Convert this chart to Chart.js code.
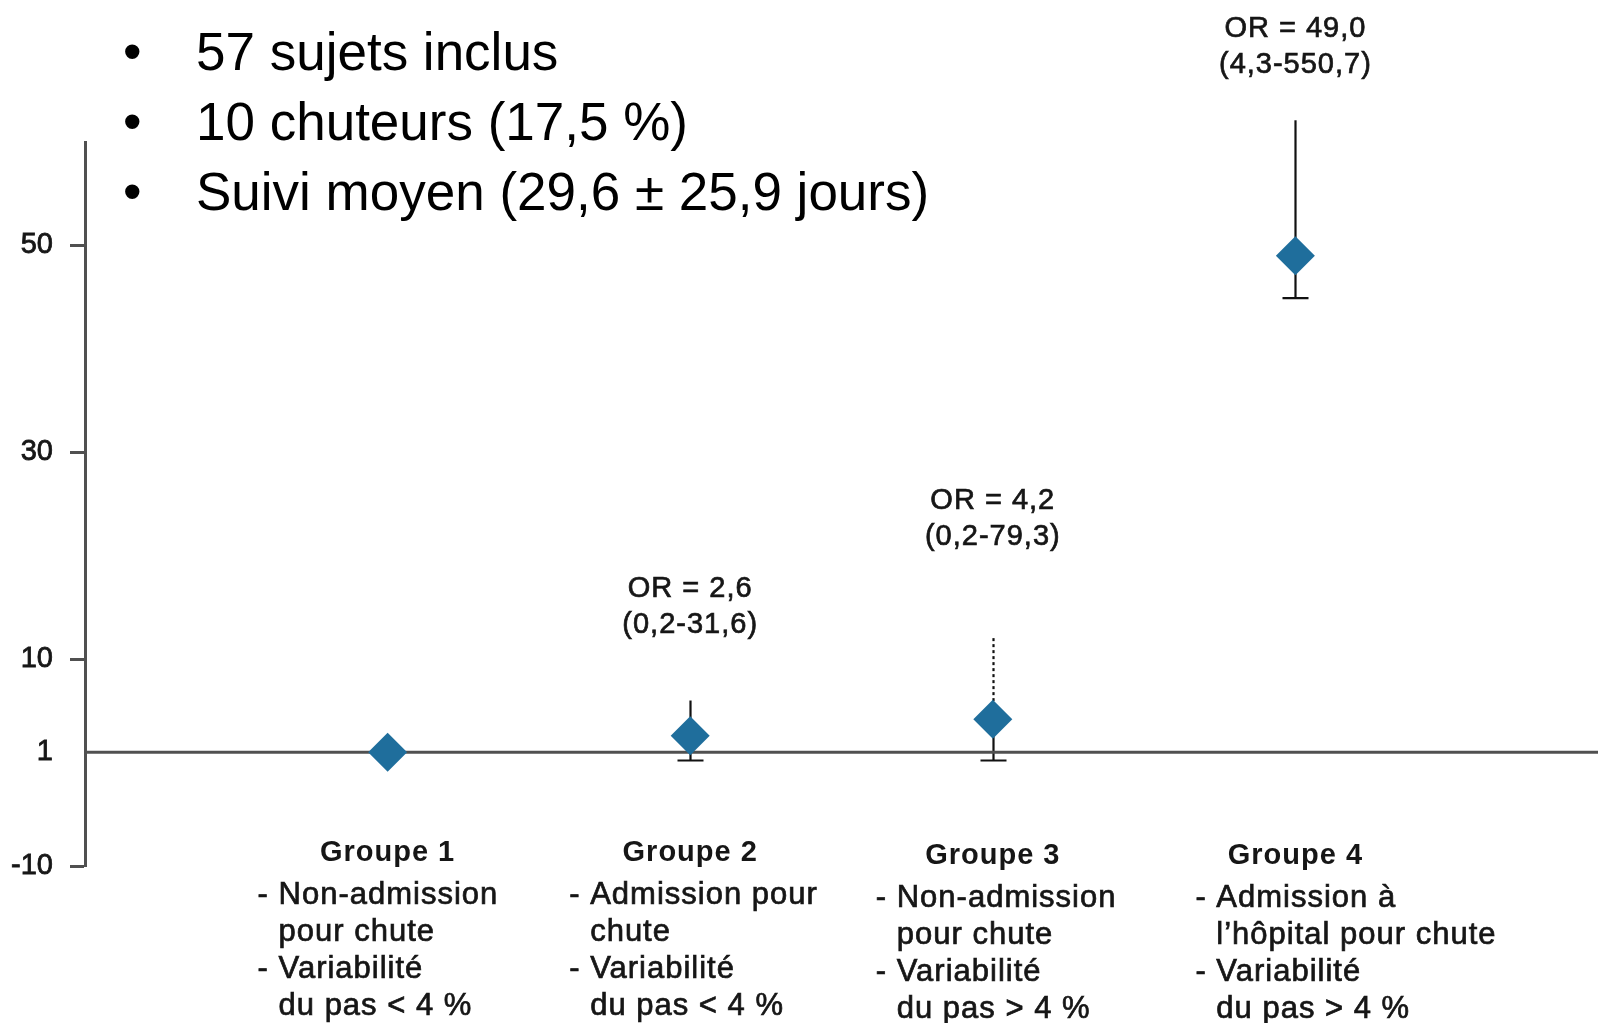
<!DOCTYPE html>
<html>
<head>
<meta charset="utf-8">
<script src="https://cdn.jsdelivr.net/npm/chart.js@4.4.1/dist/chart.umd.min.js"></script>
<style>
  html, body { margin: 0; padding: 0; background: #fff; overflow: hidden; }
  #wrap { position: relative; width: 1598px; height: 1023px; }
  #myChart { display: block; }
  #bullets {
    position: absolute; left: 0; top: 17px;
    font-family: "Liberation Sans", Arial, sans-serif;
    font-size: 53px; line-height: 70px; color: #000;
  }
  #bullets div { position: relative; padding-left: 196px; white-space: nowrap; }
  #bullets span { position: absolute; left: 123px; }
</style>
</head>
<body>
<div id="wrap">
  <canvas id="myChart"></canvas>
  <div id="bullets">
    <div><span>•</span>57 sujets inclus</div>
    <div><span>•</span>10 chuteurs (17,5 %)</div>
    <div><span>•</span>Suivi moyen (29,6 ± 25,9 jours)</div>
  </div>
</div>
<script>
'use strict';
// données
const groupes = ['Groupe 1', 'Groupe 2', 'Groupe 3', 'Groupe 4'];
const groupePos = [1, 2, 3, 4];
const oddsRatio = [1, 2.6, 4.2, 49.0];
// bornes des barres telles que dessinées
const barreBas = [null, 0.2, 0.2, 44.9];
const barreHaut = [null, 6.0, 12.3, 62.1];
const orTextes = ['', 'OR = 2,6', 'OR = 4,2', 'OR = 49,0'];
const icTextes = ['', '(0,2-31,6)', '(0,2-79,3)', '(4,3-550,7)'];
const descriptions = [
  ['- Non-admission', 'pour chute', '- Variabilité', 'du pas < 4 %'],
  ['- Admission pour', 'chute', '- Variabilité', 'du pas < 4 %'],
  ['- Non-admission', 'pour chute', '- Variabilité', 'du pas > 4 %'],
  ['- Admission à', 'l’hôpital pour chute', '- Variabilité', 'du pas > 4 %']
];
const yTicks = [-10, 1, 10, 30, 50];
const reference = 1;

const police = '"Liberation Sans", Arial, sans-serif';

// écrit un texte un peu plus épais (graisse "medium")
function texte(ctx, s, x, y) {
  ctx.fillText(s, x, y);
  ctx.strokeText(s, x, y);
}

// barres d'erreur + textes (OR, groupes)
const annotations = {
  id: 'annotations',
  beforeDatasetsDraw(chart, args, opts) {
    const ctx = chart.ctx;
    const xs = chart.scales.x, ys = chart.scales.y;
    ctx.save();
    ctx.strokeStyle = '#111';
    ctx.lineWidth = 2.2;
    for (let i = 0; i < groupes.length; i++) {
      if (barreHaut[i] == null) continue;
      const x = Math.round(xs.getPixelForValue(groupePos[i])) + 0.5;
      const yPt = ys.getPixelForValue(oddsRatio[i]);
      const yHi = ys.getPixelForValue(barreHaut[i]);
      const yLo = ys.getPixelForValue(barreBas[i]);
      // partie haute
      ctx.setLineDash(opts.pointille[i] ? [3, 3] : []);
      ctx.beginPath();
      ctx.moveTo(x, yPt);
      ctx.lineTo(x, yHi);
      ctx.stroke();
      // partie basse + trait
      ctx.setLineDash([]);
      ctx.beginPath();
      ctx.moveTo(x, yPt);
      ctx.lineTo(x, yLo);
      ctx.moveTo(x - 13, yLo);
      ctx.lineTo(x + 13, yLo);
      ctx.stroke();
    }
    ctx.restore();
  },
  afterDraw(chart, args, opts) {
    const ctx = chart.ctx;
    const xs = chart.scales.x, ys = chart.scales.y;
    ctx.save();
    ctx.fillStyle = '#161616';
    ctx.strokeStyle = '#161616';
    ctx.lineWidth = 0.7;
    ctx.letterSpacing = '1px';
    ctx.textBaseline = 'middle';
    for (let i = 0; i < groupes.length; i++) {
      const x = xs.getPixelForValue(groupePos[i]);
      // OR au-dessus de la barre
      if (orTextes[i]) {
        const yHi = ys.getPixelForValue(barreHaut[i]);
        const y2 = yHi - opts.lift[i];
        ctx.textAlign = 'center';
        ctx.font = '29px ' + police;
        texte(ctx, orTextes[i], x, y2 - 36);
        texte(ctx, icTextes[i], x, y2);
      }
      const dy = opts.decalY[i];
      // nom du groupe
      ctx.textAlign = 'center';
      ctx.font = 'bold 29px ' + police;
      ctx.fillText(groupes[i], x, 853 + dy);
      // description
      ctx.textAlign = 'left';
      ctx.font = '31px ' + police;
      const gauche = x + opts.decalX[i];
      const retrait = ctx.measureText('- ').width;
      descriptions[i].forEach((ligne, k) => {
        const dx = ligne.startsWith('-') ? 0 : retrait;
        texte(ctx, ligne, gauche + dx, 895 + dy + k * 37);
      });
    }
    ctx.restore();
  }
};

const data = {
  datasets: [
    {
      label: 'OR',
      data: groupePos.map((g, i) => ({ x: g, y: oddsRatio[i] })),
      pointStyle: 'rectRot',
      pointRadius: 19.5,
      pointHoverRadius: 19.5,
      backgroundColor: '#1f6e9c',
      borderWidth: 0,
      showLine: false
    },
    {
      label: 'référence',
      data: [{ x: 0, y: reference }, { x: 5, y: reference }],
      type: 'line',
      borderColor: '#505050',
      borderWidth: 3,
      pointRadius: 0
    }
  ]
};

const config = {
  type: 'scatter',
  data: data,
  options: {
    responsive: true,
    maintainAspectRatio: false,
    animation: false,
    layout: { autoPadding: false, padding: { top: 142, bottom: 157, left: 0, right: 0 } },
    plugins: {
      legend: { display: false },
      tooltip: { enabled: false },
      annotations: {
        pointille: [false, false, true, false],
        lift: [0, 76, 98, 55],
        decalX: [-130, -121, -117, -100],
        decalY: [0, 0, 3, 3]
      }
    },
    scales: {
      x: { type: 'linear', min: 0, max: 5, display: false },
      y: {
        type: 'linear',
        min: -10,
        max: 60,
        afterBuildTicks: s => { s.ticks = yTicks.map(v => ({ value: v })); },
        afterFit: s => { s.width = 85; },
        border: { display: true, color: '#505050', width: 3 },
        grid: {
          drawOnChartArea: false,
          drawTicks: true,
          tickLength: 15,
          tickWidth: 3,
          tickColor: c => (c.tick && c.tick.value === reference) ? 'rgba(0,0,0,0)' : '#505050'
        },
        ticks: {
          padding: 17,
          color: '#161616',
          textStrokeColor: '#161616',
          textStrokeWidth: 0.8,
          font: { family: police, size: 29 },
          callback: v => String(v)
        }
      }
    }
  },
  plugins: [annotations]
};

const myChart = new Chart(document.getElementById('myChart'), config);
</script>
</body>
</html>
